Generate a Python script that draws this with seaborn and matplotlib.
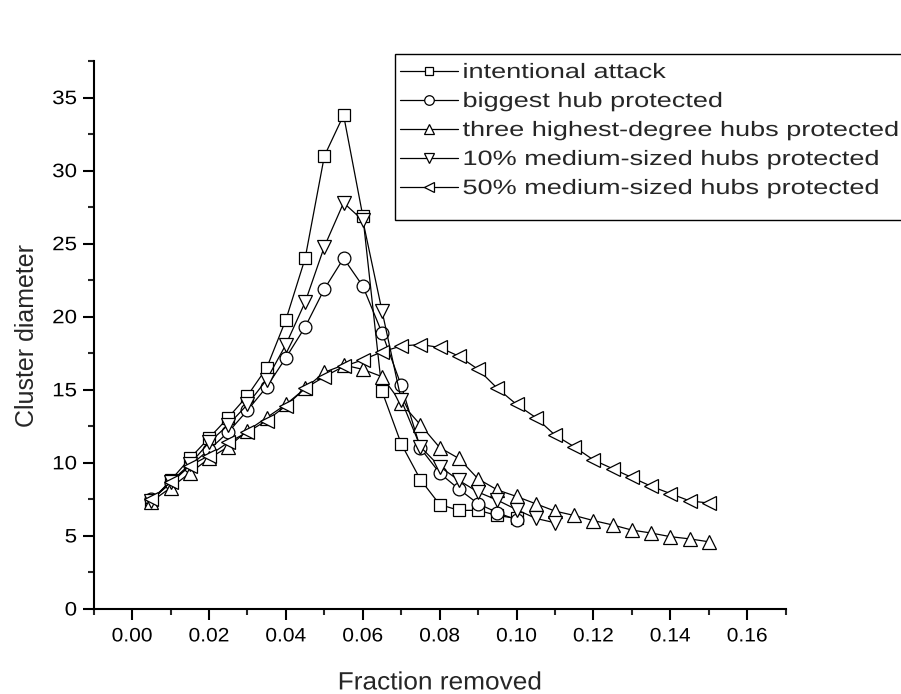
import numpy as np
import pandas as pd
import seaborn as sns
import matplotlib
matplotlib.use('Agg')
from matplotlib import pyplot as plt
from matplotlib.ticker import MultipleLocator, FormatStrFormatter
from matplotlib.patheffects import AbstractPathEffect
from matplotlib.transforms import Affine2D
from matplotlib.patches import Rectangle

# fraction removed, step 0.005
x_attack = [0.005, 0.010, 0.015, 0.020, 0.025, 0.030, 0.035, 0.040, 0.045, 0.050,
            0.055, 0.060, 0.065, 0.070, 0.075, 0.080, 0.085, 0.090, 0.095, 0.100]
y_attack = [7.4, 8.8, 10.3, 11.7, 13.1, 14.6, 16.5, 19.8, 24.0, 31.0,
            33.8, 26.9, 14.9, 11.3, 8.85, 7.15, 6.75, 6.75, 6.4, 6.2]

x_big = x_attack
y_big = [7.5, 8.6, 9.8, 10.9, 12.1, 13.6, 15.2, 17.2, 19.3, 21.9,
         24.0, 22.1, 18.9, 15.3, 11.0, 9.3, 8.2, 7.2, 6.6, 6.1]

x_three = [round(0.005 * i, 3) for i in range(1, 31)]
y_three = [7.35, 8.3, 9.3, 10.3, 11.1, 12.2, 13.1, 14.0, 15.1, 16.2,
           16.7, 16.4, 15.9, 14.1, 12.6, 11.05, 10.3, 8.9, 8.15, 7.7,
           7.2, 6.7, 6.4, 6.05, 5.75, 5.4, 5.2, 4.95, 4.8, 4.6]

x_ten = [round(0.005 * i, 3) for i in range(1, 23)]
y_ten = [7.4, 8.7, 9.9, 11.4, 12.6, 14.0, 15.7, 18.1, 21.0, 24.8,
         27.8, 26.6, 20.4, 14.3, 11.1, 9.75, 8.8, 8.0, 7.45, 6.8,
         6.2, 5.9]

x_fifty = x_three
y_fifty = [7.5, 8.7, 9.8, 10.5, 11.4, 12.1, 12.9, 13.9, 15.1, 15.9,
           16.6, 17.05, 17.6, 18.0, 18.1, 17.9, 17.3, 16.4, 15.1, 14.0,
           13.1, 11.9, 11.1, 10.2, 9.6, 9.0, 8.4, 7.9, 7.4, 7.25]

labels = ['intentional attack', 'biggest hub protected',
          'three highest-degree hubs protected',
          '10% medium-sized hubs protected', '50% medium-sized hubs protected']
series = [(x_attack, y_attack, 's', 8.5), (x_big, y_big, 'o', 9.2),
          (x_three, y_three, '^', 10), (x_ten, y_ten, 'v', 10),
          (x_fifty, y_fifty, '<', 10)]


class Stretch(AbstractPathEffect):
    # the exported figure has horizontally widened text
    def __init__(self, sx, anchor='left'):
        super().__init__()
        self.sx = sx
        self.anchor = anchor

    def draw_path(self, renderer, gc, tpath, affine, rgbFace=None):
        ext = tpath.get_extents()
        if self.anchor == 'center':
            x0 = (ext.x0 + ext.x1) / 2
        elif self.anchor == 'right':
            x0 = ext.x1
        else:
            x0 = 0
        t = Affine2D().translate(-x0, 0).scale(self.sx, 1).translate(x0, 0)
        renderer.draw_path(gc, tpath, t + affine, rgbFace)


sns.set_style('ticks')
plt.rcParams['font.family'] = ['Liberation Sans', 'DejaVu Sans']

fig = plt.figure(figsize=(9.01, 6.94), dpi=100)
ax = fig.add_axes([0.104, 0.1225, 0.768, 0.7895])

for (xs, ys, m, ms), lab in zip(series, labels):
    df = pd.DataFrame({'x': xs, 'y': ys})
    sns.lineplot(data=df, x='x', y='y', ax=ax, color='black', lw=0.9,
                 marker=m, markersize=ms, mfc='white', mec='black', mew=0.9,
                 label=lab, legend=False)

ax.set_xlim(-0.01, 0.17)
ax.set_ylim(0, 37.5)
ax.xaxis.set_major_locator(MultipleLocator(0.02))
ax.xaxis.set_minor_locator(MultipleLocator(0.01))
ax.xaxis.set_major_formatter(FormatStrFormatter('%.2f'))
ax.yaxis.set_major_locator(MultipleLocator(5))
ax.yaxis.set_minor_locator(MultipleLocator(2.5))
ax.tick_params(which='major', direction='out', length=8, width=1.5,
               labelsize=14, colors='black', pad=4)
ax.tick_params(axis='x', which='major', pad=6)
ax.tick_params(which='minor', direction='out', length=4.5, width=1.5)
sns.despine(ax=ax)
for s in ['left', 'bottom']:
    ax.spines[s].set_linewidth(1.5)
    ax.spines[s].set_color('black')

ax.set_xlabel('Fraction removed', fontsize=18, labelpad=18)
ax.set_ylabel('Cluster diameter', fontsize=18, labelpad=12)

for t in ax.get_xticklabels():
    t.set_path_effects([Stretch(1.08, 'center')])
for t in ax.get_yticklabels():
    t.set_path_effects([Stretch(1.15, 'right')])
ax.xaxis.label.set_path_effects([Stretch(1.05, 'center')])

# legend frame runs off the right edge of the figure
frame = Rectangle((395 / 901, 1 - 220 / 694), 0.6, 166 / 694,
                  transform=fig.transFigure, fill=True, fc='white',
                  ec='black', lw=1.0, zorder=3)
fig.add_artist(frame)

handles, labs = ax.get_legend_handles_labels()
leg = fig.legend(handles, labs, loc='upper left',
                 bbox_to_anchor=(400 / 901, 1 - 63 / 694),
                 fontsize=15, frameon=False, markerscale=0.75,
                 handlelength=2.8, handletextpad=0.2, labelspacing=0.48,
                 borderpad=0, borderaxespad=0)
leg.set_zorder(4)
for t in leg.get_texts():
    t.set_path_effects([Stretch(1.30, 'left')])

fig.savefig('out.png', dpi=100)
